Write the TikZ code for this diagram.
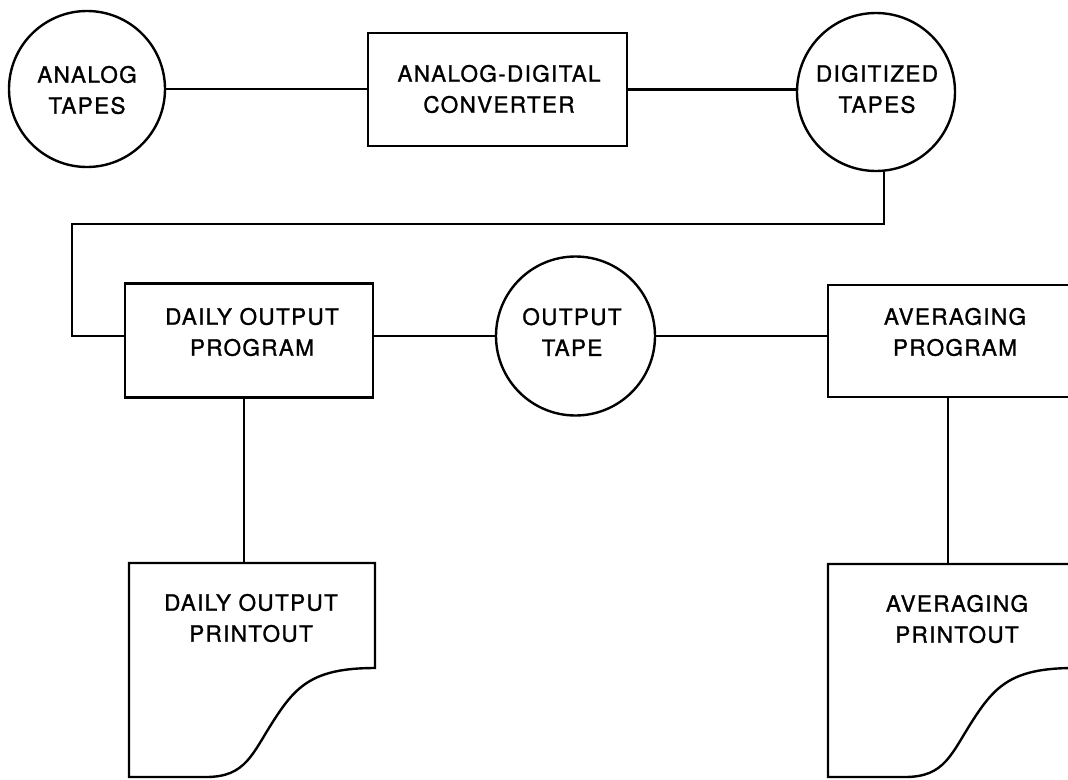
\documentclass[tikz,border=0pt]{standalone}
\usepackage{fontspec}
\setmainfont{TeX Gyre Heros}[LetterSpace=6,FakeBold=1.2]
\begin{document}
\begin{tikzpicture}[x=1pt,y=-1pt,
  line width=2.4pt,
  tape/.style={draw,circle,inner sep=0pt},
  box/.style={draw,rectangle,inner sep=0pt},
  lbl/.style={align=center,inner sep=0pt,font=\fontsize{22.5}{31}\selectfont}]
\useasboundingbox (0,0) rectangle (1068,779);
\clip (0,0) rectangle (1068,779);
% shapes
\node[tape,minimum size=156pt] (at) at (87,89) {};
\node[box,minimum width=259pt,minimum height=113pt] (adc) at (497.5,89.5) {};
\node[tape,minimum size=158pt] (dt) at (876,92) {};
\node[box,minimum width=248pt,minimum height=114pt] (dop) at (249,340.5) {};
\node[tape,minimum size=159pt] (ot) at (575.5,336) {};
\node[box,minimum width=254pt,minimum height=112pt] (ap) at (955,341) {};
\coordinate (dpo) at (129,563);
\coordinate (apo) at (828,564);
\coordinate (loop) at (72,224);
% printouts
\draw (dpo) -- ++(246,0) -- ++(0,105)
  .. controls +(-62,0) and +(22,-34) .. ++(-101,52)
  .. controls +(-22,34) and +(40,0) .. ++(-68,57)
  -- ++(-77,0) -- cycle;
\draw (apo) -- ++(246,0) -- ++(0,104)
  .. controls +(-62,0) and +(22,-34) .. ++(-101,52)
  .. controls +(-22,34) and +(40,0) .. ++(-68,57)
  -- ++(-77,0) -- cycle;
% labels
\node[lbl] (atl) at (87,90) {ANALOG\\TAPES};
\node[lbl] (adcl) at (499,89) {ANALOG-DIGITAL\\CONVERTER};
\node[lbl] (dtl) at (877,89) {DIGITIZED\\TAPES};
\node[lbl] (dopl) at (252,332) {DAILY OUTPUT\\PROGRAM};
\node[lbl] (otl) at (572,332) {OUTPUT\\TAPE};
\node[lbl] (apl) at (955,332) {AVERAGING\\PROGRAM};
\node[lbl] (dpol) at (251,618) {DAILY OUTPUT\\PRINTOUT};
\node[lbl] (apol) at (957,619) {AVERAGING\\PRINTOUT};
% connectors
\draw (at.east) -- (at.east -| adc.west);
\draw (adc.east) -- (adc.east -| dt.west);
\draw ([xshift=8pt]dt.south) |- (loop) |- (dop.west |- ot.center);
\draw (dop.east |- ot.center) -- (ot.west);
\draw (ot.east) -- (ot.east -| ap.west);
\draw ([xshift=-5pt]dop.south) -- ([xshift=-5pt]dop.south |- dpo);
\draw ([xshift=-7pt]ap.south) -- ([xshift=-7pt]ap.south |- apo);
\end{tikzpicture}
\end{document}
